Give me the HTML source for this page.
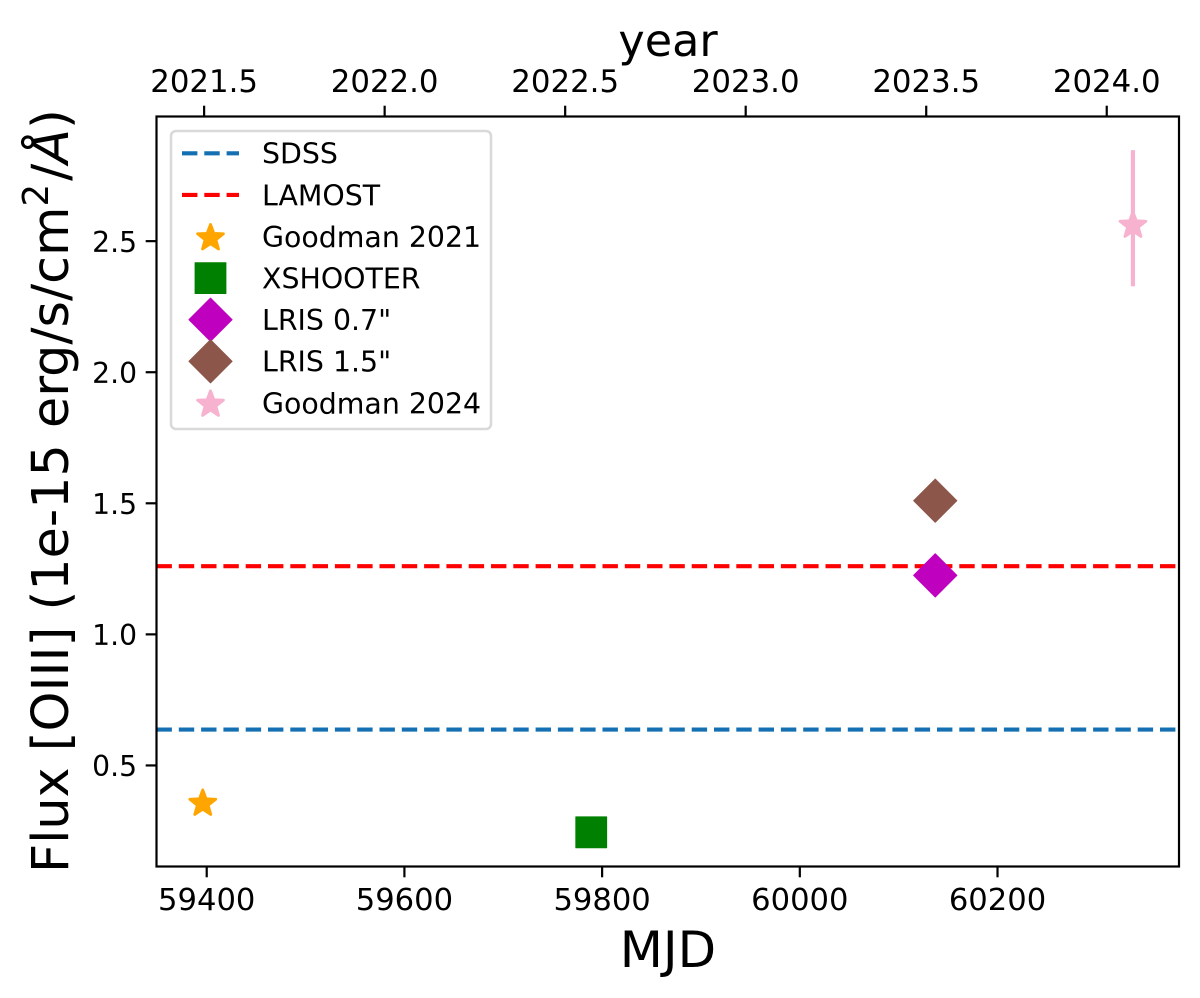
<!DOCTYPE html>
<html lang="en">
<head>
<meta charset="utf-8">
<title>Flux [OIII] vs MJD</title>
<style>
html,body{margin:0;padding:0;background:#fff;width:1200px;height:998px;overflow:hidden}
svg{display:block}
text{font-family:"DejaVu Sans","Liberation Sans",sans-serif;fill:#000}
</style>
</head>
<body>
<svg id="chart" xmlns="http://www.w3.org/2000/svg" width="1200" height="998" viewBox="0 0 1200 998">
  <rect x="0" y="0" width="1200" height="998" fill="#fff"/>
  <g id="plot"></g>
  <g id="axes"></g>
  <g id="legend"></g>
  <text x="668" y="967" font-size="50" text-anchor="middle">MJD</text>
  <text x="668" y="56" font-size="44.5" text-anchor="middle">year</text>
  <text transform="translate(68 873) rotate(-90)" font-size="50.8">Flux [OIII] (1e-15 erg/s/cm<tspan font-size="35.5" dy="-20">2</tspan><tspan dy="20" dx="3">/</tspan><tspan font-style="italic">Å</tspan>)</text>
</svg>
<script>
// Chart data
const mjdTicks = [59400, 59600, 59800, 60000, 60200];
const yearTicks = [2021.5, 2022.0, 2022.5, 2023.0, 2023.5, 2024.0];
const fluxTicks = [0.5, 1.0, 1.5, 2.0, 2.5];
const referenceNames = ["SDSS", "LAMOST"];
const referenceFlux = [0.637, 1.26];
const pointNames = ["Goodman 2021", "XSHOOTER", "LRIS 0.7\"", "LRIS 1.5\"", "Goodman 2024"];
const pointMjd = [59396, 59789, 60137, 60137, 60337];
const pointFlux = [0.355, 0.245, 1.225, 1.51, 2.56];
const pointErrLow = [0, 0, 0, 0, 2.328];
const pointErrHigh = [0, 0, 0, 0, 2.847];

// Axis functions
const box = {left: 156.5, right: 1179, top: 116.5, bottom: 866.5};
const xDomain = [59349.2, 60383.6];
const yDomain = [0.1145, 2.9755];
function xScale(v) { return box.left + (v - xDomain[0]) / (xDomain[1] - xDomain[0]) * (box.right - box.left); }
function yScale(v) { return box.bottom - (v - yDomain[0]) / (yDomain[1] - yDomain[0]) * (box.bottom - box.top); }
function yearToMjd(y) { return 51544.5 + (y - 2000) * 365.25; }

// Styles
const refColors = ["#1470b2", "#ff0000"];
const pointShapes = ["star", "square", "diamond", "diamond", "star"];
const pointColors = ["#ffa500", "#008000", "#bf00bf", "#8c564b", "#f7b2d0"];

const NS = "http://www.w3.org/2000/svg";
function mk(tag, attrs, parent) {
  const el = document.createElementNS(NS, tag);
  for (const k in attrs) el.setAttribute(k, attrs[k]);
  parent.appendChild(el);
  return el;
}
function slug(s) { return s.toLowerCase().replace(/[^a-z0-9]+/g, "-").replace(/-$/, ""); }
function markerPoints(shape, cx, cy) {
  const pts = [];
  if (shape === "star") {
    const R = 13.6, r = R * 0.42;
    for (let i = 0; i < 10; i++) {
      const a = -Math.PI / 2 + i * Math.PI / 5, q = i % 2 ? r : R;
      pts.push((cx + q * Math.cos(a)).toFixed(2) + "," + (cy + q * Math.sin(a)).toFixed(2));
    }
  } else if (shape === "square") {
    const h = 15.4;
    pts.push((cx-h)+","+(cy-h), (cx+h)+","+(cy-h), (cx+h)+","+(cy+h), (cx-h)+","+(cy+h));
  } else {
    const h = 21.6;
    pts.push(cx+","+(cy-h), (cx+h)+","+cy, cx+","+(cy+h), (cx-h)+","+cy);
  }
  return pts.join(" ");
}
function markerStroke(shape) { return shape === "star" ? 2.8 : 1; }

const plot = document.getElementById("plot");
const axes = document.getElementById("axes");
const legend = document.getElementById("legend");

// Reference lines
referenceFlux.forEach(function (v, i) {
  const line = mk("line", {x1: box.left, x2: box.right, y1: yScale(v), y2: yScale(v), stroke: refColors[i], "stroke-width": 4.17, "stroke-dasharray": "15.4 6.9"}, plot);
  
  
});

// Error bars and markers
pointNames.forEach(function (name, i) {
  if (pointErrHigh[i] > pointErrLow[i]) {
    const bar = mk("line", {x1: xScale(pointMjd[i]), x2: xScale(pointMjd[i]), y1: yScale(pointErrLow[i]), y2: yScale(pointErrHigh[i]), stroke: pointColors[i], "stroke-width": 4.17}, plot);
    
    
  }
  const mark = mk("polygon", {points: markerPoints(pointShapes[i], xScale(pointMjd[i]), yScale(pointFlux[i])), fill: pointColors[i], stroke: pointColors[i], "stroke-width": markerStroke(pointShapes[i]), "stroke-linejoin": "round"}, plot);
  
  
});

// Spines
const frame = mk("rect", {x: box.left, y: box.top, width: box.right - box.left, height: box.bottom - box.top, fill: "none", stroke: "#000", "stroke-width": 2.2}, axes);



// Bottom ticks
mjdTicks.forEach(function (v) {
  const x = xScale(v);
  const tick = mk("line", {x1: x, x2: x, y1: box.bottom, y2: box.bottom + 10.8, stroke: "#000", "stroke-width": 2.2}, axes);
  
  
  const label = mk("text", {x: x, y: 910, "font-size": 30.6, "text-anchor": "middle"}, axes);
  label.textContent = String(v);
  
  
});

// Top ticks
yearTicks.forEach(function (v) {
  const x = xScale(yearToMjd(v));
  const tick = mk("line", {x1: x, x2: x, y1: box.top, y2: box.top - 10.8, stroke: "#000", "stroke-width": 2.2}, axes);
  
  
  const label = mk("text", {x: x, y: 92, "font-size": 30.8, "text-anchor": "middle"}, axes);
  label.textContent = v.toFixed(1);
  
  
});

// Left ticks
fluxTicks.forEach(function (v) {
  const y = yScale(v);
  const tick = mk("line", {x1: box.left, x2: box.left - 10.8, y1: y, y2: y, stroke: "#000", "stroke-width": 2.2}, axes);
  
  
  const label = mk("text", {x: 137, y: y + 10.6, "font-size": 28.2, "text-anchor": "end"}, axes);
  label.textContent = v.toFixed(1);
  
  
});

// Legend
const legendBox = mk("rect", {x: 171, y: 131, width: 320, height: 298, rx: 5, ry: 5, fill: "#fff", "fill-opacity": 0.8, stroke: "#d9d9d9", "stroke-width": 2.6}, legend);


const rowY = function (i) { return 153.3 + i * 41.6; };
referenceNames.forEach(function (name, i) {
  const h = mk("line", {x1: 182, x2: 239, y1: rowY(i), y2: rowY(i), stroke: refColors[i], "stroke-width": 4.17, "stroke-dasharray": "15.4 6.9"}, legend);
  
  
  const t = mk("text", {x: 262, y: rowY(i) + 10.4, "font-size": 28.4}, legend);
  t.textContent = name;
  
  
});
pointNames.forEach(function (name, i) {
  const row = i + referenceNames.length;
  const h = mk("polygon", {points: markerPoints(pointShapes[i], 210.5, rowY(row) + (pointShapes[i] === "star" ? 1.5 : 0)), fill: pointColors[i], stroke: pointColors[i], "stroke-width": markerStroke(pointShapes[i]), "stroke-linejoin": "round"}, legend);
  
  
  const t = mk("text", {x: 262, y: rowY(row) + 10.4, "font-size": 28.4}, legend);
  t.textContent = name;
  
  
});
</script>
</body>
</html>
